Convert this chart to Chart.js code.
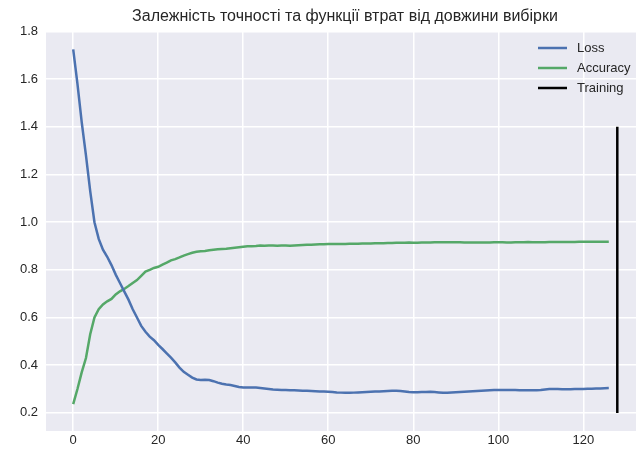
<!DOCTYPE html>
<html>
<head>
<meta charset="utf-8">
<script src="https://cdn.jsdelivr.net/npm/chart.js@4"></script>
<style>
  body { margin: 0; background: #fff; }
  #wrap { width: 636px; height: 454px; }
</style>
</head>
<body>
<div id="wrap"><canvas id="lineChart"></canvas></div>
<script>
const lossValues = [
  1.725, 1.58, 1.42, 1.28, 1.13, 1.00, 0.93, 0.885, 0.855, 0.82,
  0.78, 0.745, 0.71, 0.675, 0.635, 0.60, 0.565, 0.54, 0.52, 0.505,
  0.485, 0.468, 0.45, 0.432, 0.412, 0.39, 0.372, 0.36, 0.348, 0.34,
  0.338, 0.339, 0.338, 0.333, 0.327, 0.322, 0.319, 0.317, 0.313, 0.309,
  0.307, 0.307, 0.307, 0.306, 0.304, 0.302, 0.300, 0.298, 0.297, 0.296,
  0.296, 0.295, 0.295, 0.294, 0.293, 0.293, 0.292, 0.291, 0.290, 0.290,
  0.289, 0.288, 0.286, 0.285, 0.284, 0.284, 0.285, 0.286, 0.287, 0.288,
  0.289, 0.290, 0.290, 0.291, 0.292, 0.293, 0.293, 0.292, 0.290, 0.288,
  0.287, 0.287, 0.288, 0.288, 0.289, 0.288, 0.286, 0.284, 0.284, 0.286,
  0.287, 0.288, 0.289, 0.290, 0.291, 0.292, 0.293, 0.294, 0.295, 0.296,
  0.296, 0.296, 0.296, 0.296, 0.296, 0.295, 0.295, 0.295, 0.295, 0.295,
  0.296, 0.298, 0.300, 0.300, 0.300, 0.299, 0.299, 0.299, 0.300, 0.300,
  0.300, 0.301, 0.301, 0.302, 0.302, 0.303, 0.304
];

const accuracyValues = [
  0.237, 0.30, 0.37, 0.43, 0.53, 0.60, 0.635, 0.655, 0.668, 0.678,
  0.697, 0.71, 0.72, 0.732, 0.745, 0.757, 0.775, 0.793, 0.80, 0.808,
  0.813, 0.822, 0.83, 0.84, 0.845, 0.852, 0.86, 0.866, 0.872, 0.876,
  0.878, 0.879, 0.882, 0.884, 0.886, 0.888, 0.889, 0.891, 0.893, 0.895,
  0.897, 0.899, 0.899, 0.900, 0.902, 0.901, 0.902, 0.902, 0.901, 0.902,
  0.902, 0.901, 0.902, 0.903, 0.904, 0.905, 0.905, 0.906, 0.907, 0.907,
  0.908, 0.908, 0.909, 0.909, 0.909, 0.910, 0.910, 0.910, 0.911, 0.911,
  0.911, 0.912, 0.912, 0.912, 0.913, 0.913, 0.914, 0.914, 0.914, 0.915,
  0.914, 0.914, 0.915, 0.915, 0.915, 0.916, 0.916, 0.916, 0.916, 0.916,
  0.916, 0.916, 0.915, 0.915, 0.915, 0.915, 0.915, 0.915, 0.915, 0.916,
  0.916, 0.916, 0.915, 0.915, 0.916, 0.916, 0.916, 0.917, 0.916, 0.916,
  0.916, 0.916, 0.917, 0.917, 0.917, 0.917, 0.917, 0.917, 0.917, 0.918,
  0.918, 0.918, 0.918, 0.918, 0.918, 0.918, 0.918
];

// vertical "Training" marker
const trainingX = [128, 128];
const trainingY = [0.2, 1.4];

const xTicks = [0, 20, 40, 60, 80, 100, 120];
const yTicks = [0.2, 0.4, 0.6, 0.8, 1.0, 1.2, 1.4, 1.6, 1.8];

const title = "Залежність точності та функції втрат від довжини вибірки";
const textColor = "#262626";
const fontFamily = "'Liberation Sans', Arial, sans-serif";

const toPoints = (vals) => vals.map((v, i) => ({ x: i, y: v }));

const plotBg = {
  id: "plotBg",
  beforeDraw(chart) {
    const a = chart.chartArea;
    const ctx = chart.ctx;
    ctx.save();
    ctx.fillStyle = "#EAEAF2";
    ctx.fillRect(a.left, a.top, a.right - a.left, a.bottom - a.top);
    ctx.restore();
  }
};

// title centred over the axes (axes run a bit past the right edge)
const axesTitle = {
  id: "axesTitle",
  afterDraw(chart) {
    const ctx = chart.ctx;
    ctx.save();
    ctx.font = "16px " + fontFamily;
    ctx.fillStyle = textColor;
    ctx.textAlign = "center";
    ctx.textBaseline = "middle";
    ctx.fillText(title, 345, 17);
    ctx.restore();
  }
};

const sideLegend = {
  id: "sideLegend",
  afterDraw(chart) {
    const ctx = chart.ctx;
    ctx.save();
    ctx.font = "13px " + fontFamily;
    ctx.textBaseline = "middle";
    chart.data.datasets.forEach((ds, i) => {
      const y = 48 + i * 20;
      ctx.strokeStyle = ds.borderColor;
      ctx.lineWidth = ds.borderWidth;
      ctx.beginPath();
      ctx.moveTo(538, y);
      ctx.lineTo(567, y);
      ctx.stroke();
      ctx.fillStyle = textColor;
      ctx.fillText(ds.label, 577, y);
    });
    ctx.restore();
  }
};

const ctx = document.getElementById("lineChart").getContext("2d");
new Chart(ctx, {
  type: "line",
  data: {
    datasets: [
      {
        label: "Loss",
        data: toPoints(lossValues),
        borderColor: "#4C72B0",
        borderWidth: 2.5,
        pointRadius: 0,
        tension: 0
      },
      {
        label: "Accuracy",
        data: toPoints(accuracyValues),
        borderColor: "#55A868",
        borderWidth: 2.5,
        pointRadius: 0,
        tension: 0
      },
      {
        label: "Training",
        data: trainingX.map((x, i) => ({ x: x, y: trainingY[i] })),
        borderColor: "#000000",
        borderWidth: 2.5,
        pointRadius: 0
      }
    ]
  },
  options: {
    responsive: true,
    maintainAspectRatio: false,
    animation: false,
    layout: { padding: { top: 31.5, right: 0, bottom: 0, left: 0 } },
    plugins: {
      legend: { display: false },
      tooltip: { enabled: false },
      title: { display: false }
    },
    scales: {
      x: {
        type: "linear",
        min: -6.4,
        max: 132.4,
        border: { display: false },
        grid: { color: "#ffffff", lineWidth: 1.5, drawTicks: false },
        afterBuildTicks: (s) => { s.ticks = xTicks.map(v => ({ value: v })); },
        afterFit: (s) => { s.height = 23; },
        ticks: {
          color: textColor,
          padding: 2,
          font: { family: fontFamily, size: 13 },
          callback: (v) => String(v)
        }
      },
      y: {
        min: 0.124,
        max: 1.8,
        border: { display: false },
        grid: { color: "#ffffff", lineWidth: 1.5, drawTicks: false },
        afterBuildTicks: (s) => { s.ticks = yTicks.map(v => ({ value: v })); },
        afterFit: (s) => { s.width = 46; },
        ticks: {
          color: textColor,
          padding: 8,
          font: { family: fontFamily, size: 13 },
          callback: (v) => Number(v).toFixed(1)
        }
      }
    }
  },
  plugins: [plotBg, axesTitle, sideLegend]
});
</script>
</body>
</html>
